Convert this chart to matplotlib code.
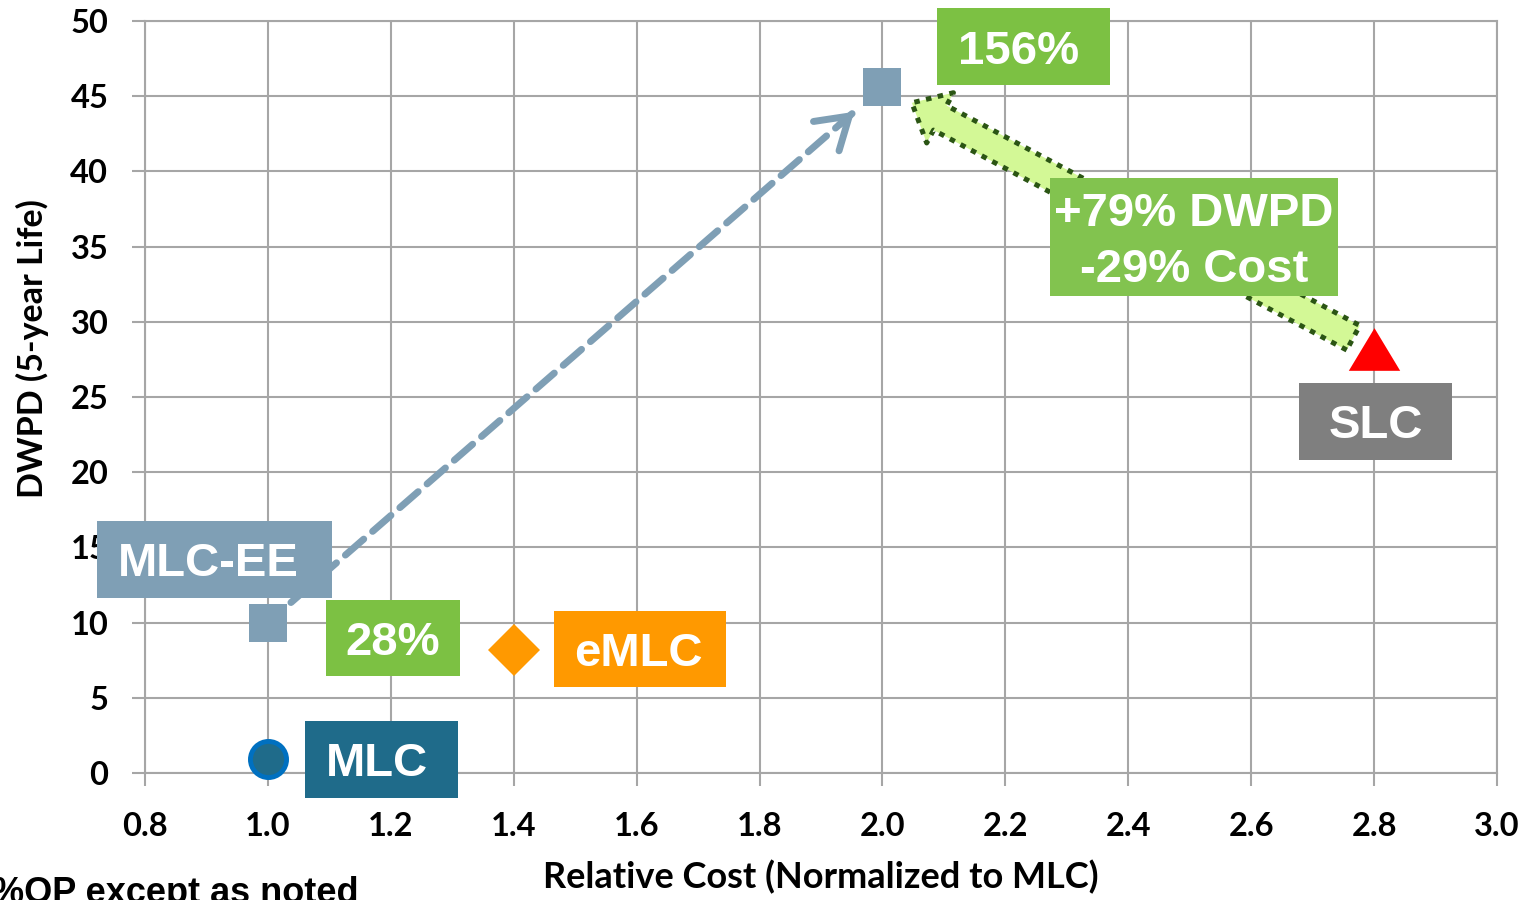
import matplotlib
matplotlib.use('Agg')
import matplotlib.pyplot as plt
import numpy as np
from matplotlib.patches import Rectangle, FancyArrowPatch
from matplotlib.transforms import Affine2D

plt.rcParams['font.family'] = ['Lato', 'DejaVu Sans']

# cost vs endurance for each NAND flavour
mlc_cost = [1.0]
mlc_dwpd = [0.9]
mlc_ee_cost = [1.0, 2.0]
mlc_ee_dwpd = [10.0, 45.6]
emlc_cost = [1.4]
emlc_dwpd = [8.2]
slc_cost = [2.8]
slc_dwpd = [28.2]

x_ticks = np.arange(0.8, 3.01, 0.2)
y_ticks = np.arange(0, 51, 5)

GRID = '#a6a6a6'
EE_BLUE = '#7f9fb5'
MLC_TEAL = '#1f6b8a'
GREEN = '#7cc143'
ORANGE = '#ff9900'
W, H = 1534, 900

fig = plt.figure(figsize=(W / 100, H / 100), dpi=100)
ax = fig.add_axes([145 / W, 1 - 773 / H, 1352 / W, 752 / H])

ax.set_xlim(0.8, 3.0)
ax.set_ylim(0, 50)
ax.set_xticks(x_ticks)
ax.set_yticks(y_ticks)
ax.set_xticklabels([f'{v:.1f}' for v in x_ticks])
ax.set_yticklabels([f'{v:d}' for v in y_ticks])
ax.grid(True, color=GRID, linewidth=1.5)
ax.set_axisbelow(True)
for side in ax.spines.values():
    side.set_color(GRID)
    side.set_linewidth(1.5)
ax.tick_params(direction='out', length=9.4, width=1.5, color=GRID,
               labelsize=23.5)
ax.tick_params(axis='x', pad=19)
ax.tick_params(axis='y', pad=17)
for lbl in ax.get_xticklabels() + ax.get_yticklabels():
    lbl.set_fontweight('bold')

ax.set_xlabel('Relative Cost (Normalized to MLC)', fontsize=26, fontweight='bold')
ax.set_ylabel('DWPD (5-year Life)', fontsize=24.5, fontweight='bold')
ax.xaxis.set_label_coords(0.5, -0.138)
ax.xaxis.label.set_va('center')
ax.yaxis.set_label_coords(-0.083, 0.565)
ax.yaxis.label.set_va('center')

# markers
ax.plot(mlc_cost, mlc_dwpd, 'o', ms=26, mfc=MLC_TEAL, mec='#0070c0', mew=3.5,
        zorder=5, clip_on=False)
ax.plot(mlc_ee_cost, mlc_ee_dwpd, 's', ms=28, color=EE_BLUE, mew=0, zorder=5)
ax.plot(emlc_cost, emlc_dwpd, 'D', ms=26, color=ORANGE, mew=0, zorder=5)
tri = [(-1, -0.83), (1, -0.83), (0, 0.83), (-1, -0.83)]
ax.plot(slc_cost, slc_dwpd, marker=tri, ms=37, color='#ff0000', mew=0,
        ls='none', zorder=5)

# dashed MLC-EE improvement arrow
start = (mlc_ee_cost[0], mlc_ee_dwpd[0])
end = (mlc_ee_cost[1], mlc_ee_dwpd[1])
ax.annotate('', xy=end, xytext=start,
            arrowprops=dict(arrowstyle='-', color=EE_BLUE, lw=5,
                            linestyle=(0, (3.5, 1.7)), shrinkA=22, shrinkB=29))
near = (start[0] + 0.93 * (end[0] - start[0]), start[1] + 0.93 * (end[1] - start[1]))
ax.annotate('', xy=end, xytext=near,
            arrowprops=dict(arrowstyle='->,head_length=0.55,head_width=0.35',
                            mutation_scale=40, color=EE_BLUE, lw=5,
                            shrinkA=0, shrinkB=27, capstyle='round',
                            joinstyle='round'))

# block arrow from SLC back to MLC-EE
block = FancyArrowPatch((slc_cost[0], slc_dwpd[0]), end,
                        arrowstyle='simple,head_length=2.3,head_width=4.1,tail_width=2.0',
                        mutation_scale=10, shrinkA=17, shrinkB=24,
                        facecolor='#d3f896', edgecolor='#2b5514', lw=3.6,
                        linestyle=(0, (1.1, 1.3)), capstyle='butt', zorder=4)
ax.add_patch(block)

# label boxes, laid out in pixels from the top-left corner of the figure
px = Affine2D().scale(1 / W, -1 / H).translate(0, 1) + fig.transFigure


def tag(left, top, right, bottom, lines, color, pitch=55, shift=0):
    fig.add_artist(Rectangle((left, top), right - left, bottom - top,
                             transform=px, facecolor=color, edgecolor='none',
                             zorder=10))
    cx = (left + right) / 2 + shift
    base = (top + bottom) / 2 + 17 - pitch * (len(lines) - 1) / 2
    for i, line in enumerate(lines):
        fig.text(cx, base + i * pitch, line, transform=px, ha='center',
                 va='baseline', color='white', fontsize=34, fontweight='bold',
                 family='Liberation Sans', zorder=11)


tag(937, 8, 1110, 85, ['156%'], GREEN, shift=-5)
tag(1050, 178, 1338, 296, ['+79% DWPD', '-29% Cost'], '#82c34f')
tag(1299, 383, 1452, 460, ['SLC'], '#7f7f7f')
tag(97, 521, 332, 598, ['MLC-EE'], EE_BLUE, shift=-6)
tag(326, 600, 460, 676, ['28%'], GREEN)
tag(554, 611, 726, 687, ['eMLC'], ORANGE, shift=-2)
tag(305, 721, 458, 798, ['MLC'], MLC_TEAL, shift=-5)

fig.text(-8, 903, '%OP except as noted', transform=px, ha='left',
         va='baseline', fontsize=26, fontweight='bold', family='Liberation Sans')

fig.savefig('out.png', dpi=100)
